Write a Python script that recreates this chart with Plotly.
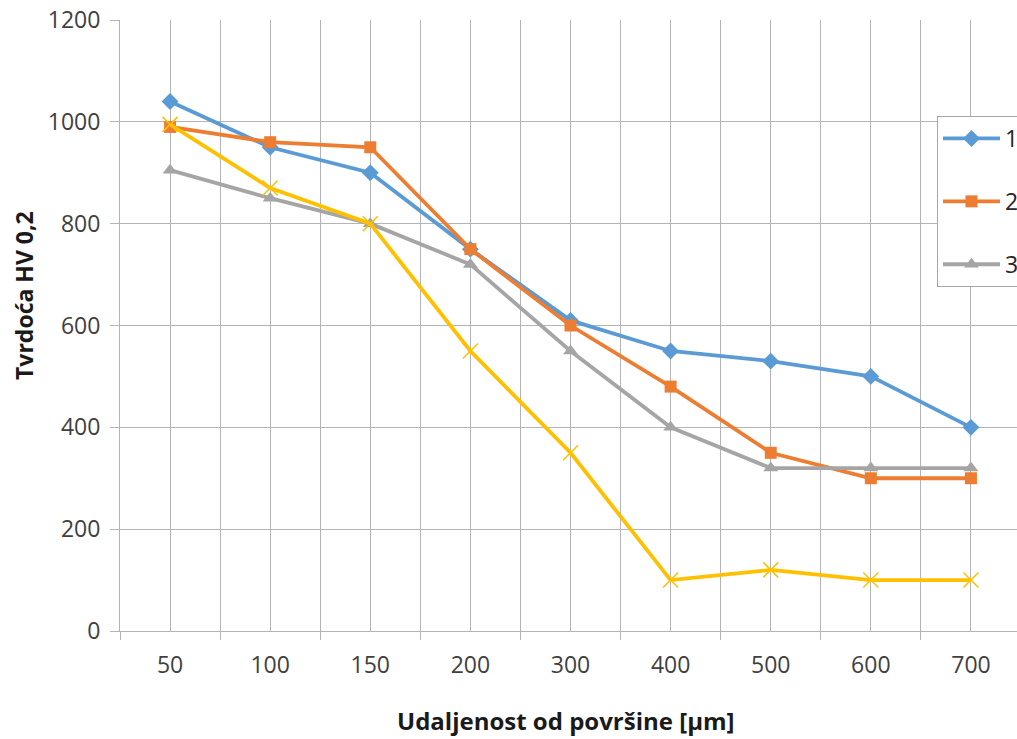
import plotly.graph_objects as go

categories = ["50", "100", "150", "200", "300", "400", "500", "600", "700"]
series1 = [1040, 950, 900, 750, 610, 550, 530, 500, 400]
series2 = [990, 960, 950, 750, 600, 480, 350, 300, 300]
series3 = [905, 850, 800, 720, 550, 400, 320, 320, 320]
series4 = [995, 870, 800, 550, 350, 100, 120, 100, 100]
names = ["1", "2", "3", "4"]
y_ticks = [0, 200, 400, 600, 800, 1000, 1200]

x_idx = list(range(len(categories)))

W, H = 1017, 739
ML, MR, MT = 120, 0, 20
MB = H - 631
PW = W - ML - MR
PH = H - MT - MB


def px_x(page_x):
    return (page_x - ML) / PW


def px_y(page_y):
    return (H - MB - page_y) / PH


GRID = "#B4B4B4"
FONT = "Open Sans"

fig = go.Figure()
styles = [
    dict(color="#5B9BD5", symbol="diamond", size=13),
    dict(color="#ED7D31", symbol="square", size=12),
    dict(color="#A5A5A5", symbol="triangle-up", size=13),
]
for i, vals in enumerate([series1, series2, series3]):
    s = styles[i]
    fig.add_trace(go.Scatter(
        x=x_idx, y=vals, name=names[i], mode="lines+markers",
        line=dict(color=s["color"], width=3.8),
        marker=dict(color=s["color"], symbol=s["symbol"], size=s["size"]),
        legendgroup=names[i], showlegend=True,
    ))
fig.add_trace(go.Scatter(
    x=x_idx, y=series4, name=names[3], mode="lines+markers",
    line=dict(color="#FFC000", width=3.8),
    marker=dict(color="#FFC000", symbol="x-thin", size=15,
                line=dict(color="#FFC000", width=1.5)),
    showlegend=False,
))

fig.update_layout(
    width=W, height=H,
    margin=dict(l=ML, r=MR, t=MT, b=MB, autoexpand=False),
    paper_bgcolor="white", plot_bgcolor="white",
    font=dict(family=FONT, color="#404040", size=23),
    legend=dict(
        x=px_x(937), y=px_y(116),
        xanchor="left", yanchor="top",
        bgcolor="white", bordercolor="#A6A6A6", borderwidth=1,
        font=dict(family=FONT, size=23, color="#262626"),
        traceorder="grouped", tracegroupgap=30, itemwidth=57,
    ),
    xaxis=dict(
        range=[-0.5, 8.46],
        tickmode="array", tickvals=x_idx, ticktext=categories,
        ticks="outside", ticklen=13, tickcolor="rgba(0,0,0,0)",
        showgrid=True, gridcolor=GRID, gridwidth=1,
        showline=True, linecolor=GRID, linewidth=1.3,
        zeroline=False, ticklabeloverflow="allow",
        tickfont=dict(family=FONT, size=23, color="#404040"),
        minor=dict(tickmode="linear", tick0=-0.5, dtick=1,
                   ticks="outside", ticklen=8, tickcolor=GRID,
                   showgrid=True, gridcolor=GRID, gridwidth=1),
    ),
    yaxis=dict(
        range=[0, 1200], tickmode="array", tickvals=y_ticks,
        ticks="outside", ticklen=9, tickcolor=GRID,
        ticklabelstandoff=5, ticklabeloverflow="allow",
        showgrid=True, gridcolor=GRID, gridwidth=1.3,
        showline=True, linecolor=GRID, linewidth=1,
        zeroline=False,
        tickfont=dict(family=FONT, size=23, color="#404040"),
    ),
    annotations=[
        dict(text="<b>Udaljenost od površine [µm]</b>", xref="paper", yref="paper",
             x=px_x(566), y=px_y(720), xanchor="center", yanchor="middle",
             showarrow=False, font=dict(family=FONT, size=24, color="#1a1a1a")),
        dict(text="<b>Tvrdoća HV 0,2</b>", xref="paper", yref="paper",
             x=px_x(24), y=px_y(296), xanchor="center", yanchor="middle",
             textangle=-90, showarrow=False, font=dict(family=FONT, size=23, color="#1a1a1a")),
    ],
)

fig.write_html("out.html",
               config={"displayModeBar": False},
               post_script="document.body.style.margin='0';document.body.style.overflow='hidden';")
